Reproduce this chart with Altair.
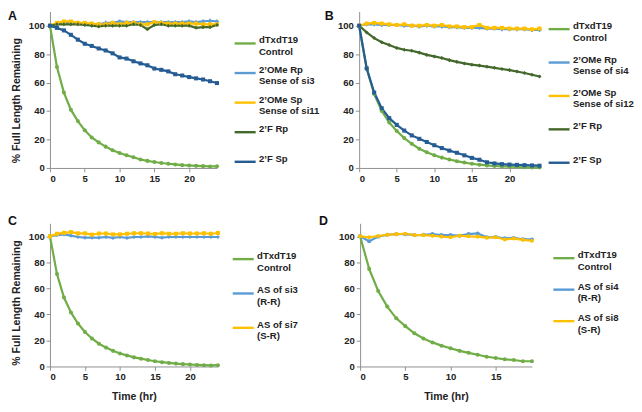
import altair as alt
import pandas as pd

FONT = "Liberation Sans"

HOURS_24 = list(range(25))
HOURS_19 = list(range(20))
X_TICKS_24 = [0, 5, 10, 15, 20]
X_TICKS_19 = [0, 5, 10, 15]
Y_TICKS = [0, 20, 40, 60, 80, 100]

GREEN = "#70AD47"
LIGHT_BLUE = "#5B9BD5"
YELLOW = "#FFC000"
DARK_GREEN = "#43682B"
DARK_BLUE = "#245C93"

# Panel A  ("|" separates the two lines of a legend label)
A_NAMES = ["dTxdT19|Control", "2’OMe Rp|Sense of si3", "2’OMe Sp|Sense of si11", "2’F Rp| ", "2’F Sp| "]
A_CONTROL = [100, 71, 53, 41, 33, 26.5, 21.5, 18, 15, 12.5, 10.5, 9, 7.5, 6, 5, 4.2, 3.5, 3, 2.5, 2, 1.8, 1.5, 1.3, 1.1, 1.2]
A_OME_RP = [100, 101.5, 102, 102, 102, 101.5, 101, 101, 102, 102, 103, 102.5, 102.5, 102.5, 102.5, 102.5, 102.5, 102.5, 102.5, 102.5, 103, 102.5, 103, 103.5, 103]
A_OME_SP = [100, 102, 103, 103, 102, 102, 101.5, 101, 101, 102, 101, 102, 102, 101, 101, 102.5, 102, 101.5, 101.5, 101.5, 101.5, 101.5, 101, 101, 101]
A_F_RP = [100, 101, 101, 101, 101, 100.5, 100, 99.5, 100, 100, 100, 100, 101, 100.5, 97.5, 100.5, 101, 100, 100, 100, 100, 98.5, 99, 99, 100.5]
A_F_SP = [100, 98.5, 96.7, 93.6, 90.2, 87.3, 85.8, 84, 82.6, 80.6, 77.7, 76.9, 75, 73.5, 72.2, 69.9, 69, 67.9, 65.9, 65, 63.9, 63, 62.2, 61, 59.7]

# Panel B
B_NAMES = ["dTxdT19|Control", "2’OMe Rp|Sense of si4", "2’OMe Sp|Sense of si12", "2’F Rp| ", "2’F Sp| "]
B_CONTROL = [100, 70, 52, 40, 32, 26, 21, 17, 13.5, 11, 9, 7.3, 6, 4.8, 3.8, 3, 2.3, 1.8, 1.4, 1.1, 0.9, 0.7, 0.5, 0.4, 0.3]
B_OME_RP = [100, 101, 101, 100.5, 100.5, 100.5, 100, 100, 99.5, 100, 99.5, 99.5, 99, 99, 98.5, 98.5, 98.5, 98, 98, 97.5, 97.5, 97.5, 97.5, 97, 97]
B_OME_SP = [100, 101.5, 102, 101.5, 101, 100.5, 101, 100, 100, 100.5, 100, 100.5, 99.5, 99.5, 99, 99, 100.5, 98.5, 98.5, 98.5, 98, 98, 98, 97.5, 98]
B_F_RP = [100, 95.3, 91.3, 88.4, 86.4, 84.4, 83.1, 82.4, 81.1, 79.5, 78.4, 77.3, 75.8, 74.6, 73.5, 72.6, 72, 71.2, 70.4, 69.6, 68.8, 67.8, 66.8, 65.5, 64.3]
B_F_SP = [100, 70, 53, 42, 35, 30.3, 26.3, 22.9, 20.5, 18.3, 16, 14, 12.2, 10.7, 8.9, 7.1, 5.8, 4, 3.2, 2.7, 2.4, 2.2, 2, 1.8, 1.6]

# Panel C
C_NAMES = ["dTxdT19|Control", "AS of si3|(R-R)", "AS of si7|(S-R)"]
C_CONTROL = [100, 71, 53, 41.5, 33, 26.5, 21.5, 17.5, 14.5, 12, 10, 8.5, 7, 6, 5, 4, 3.3, 2.7, 2.2, 1.8, 1.5, 1.2, 1, 0.8, 1]
C_RR = [100, 101, 101.5, 100.5, 99.5, 99, 99, 99, 99.5, 98.8, 99.5, 98.8, 99.5, 99.5, 100, 99.5, 99, 99.5, 99.5, 99.5, 99.5, 99.5, 99.5, 99.5, 99.5]
C_SR = [100, 102, 102.7, 103.3, 102.3, 102.3, 101.3, 102.2, 102.2, 101.5, 101.5, 102, 102.4, 102.4, 102.2, 101.8, 102.4, 102, 102, 102.4, 102.2, 102.2, 102.4, 102, 102.6]

# Panel D
D_NAMES = ["dTxdT19|Control", "AS of si4|(R-R)", "AS of si8|(S-R)"]
D_CONTROL = [100, 75, 58, 46, 37, 31, 25.5, 21.5, 18.5, 16, 14, 12, 10.5, 9, 7.5, 6.5, 5.5, 5, 4, 4]
D_RR = [100, 96.3, 99.8, 101.2, 101.7, 101.7, 101, 101.2, 101.7, 101, 101, 100.5, 101.7, 102.2, 99.3, 99.5, 98.5, 98.8, 97.8, 97.5]
D_SR = [100, 99.3, 100.2, 101.2, 101.7, 102, 101, 101, 100.5, 99.8, 99.3, 100.5, 100, 99.8, 99, 99.3, 97.6, 98.3, 97.3, 96.6]


def panel(letter, hours, names, series, colors, shapes, width, height, xmax, xticks,
          ytitle, xtitle, legend_x, legend_y, row_pad, letter_x, letter_y, ytitle_y):
    rows = []
    for name, vals in zip(names, series):
        for t, v in zip(hours, vals):
            rows.append({"hour": t, "pct": v, "series": name, "marker": name + "~"})
    df = pd.DataFrame(rows)
    marker_names = [n + "~" for n in names]

    x = alt.X("hour:Q", scale=alt.Scale(domain=[0, xmax], nice=False, zero=True),
              axis=alt.Axis(values=xticks, title=xtitle, titlePadding=10))
    y = alt.Y("pct:Q", scale=alt.Scale(domain=[0, 110], nice=False),
              axis=alt.Axis(values=Y_TICKS, title=ytitle, titlePadding=7, titleY=ytitle_y))
    legend = alt.Legend(
        orient="none", legendX=legend_x, legendY=legend_y, title=None,
        symbolType="stroke", symbolStrokeWidth=2.5, symbolSize=484,
        labelExpr="split(datum.label, '|')", labelFont=FONT, labelFontSize=10,
        labelFontWeight="bold", labelColor="#222222", labelBaseline="alphabetic",
        rowPadding=row_pad, labelLimit=200, labelOffset=2,
    )
    lines = alt.Chart(df).mark_line(strokeWidth=2.3).encode(
        x=x, y=y,
        color=alt.Color("series:N", scale=alt.Scale(domain=names, range=colors), legend=legend),
    )
    points = alt.Chart(df).mark_point(filled=True, size=18, opacity=1).encode(
        x=x, y=y,
        fill=alt.Fill("marker:N", scale=alt.Scale(domain=marker_names, range=colors), legend=None),
        shape=alt.Shape("marker:N", scale=alt.Scale(domain=marker_names, range=shapes), legend=None),
    )
    label = alt.Chart(pd.DataFrame({"letter": [letter]})).mark_text(
        font=FONT, fontSize=13, fontWeight="bold", align="left", baseline="middle", color="#111111"
    ).encode(text="letter:N", x=alt.value(letter_x), y=alt.value(letter_y))
    return alt.layer(lines, points, label).properties(width=width, height=height)


pa = panel("A", HOURS_24, A_NAMES, [A_CONTROL, A_OME_RP, A_OME_SP, A_F_RP, A_F_SP],
           [GREEN, LIGHT_BLUE, YELLOW, DARK_GREEN, DARK_BLUE],
           ["circle", "cross", "square", "diamond", "square"],
           175, 164, 24, X_TICKS_24, "% Full Length Remaining", None, 192, 21, 4, -44, 5, 93)
pb = panel("B", HOURS_24, B_NAMES, [B_CONTROL, B_OME_RP, B_OME_SP, B_F_RP, B_F_SP],
           [GREEN, LIGHT_BLUE, YELLOW, DARK_GREEN, DARK_BLUE],
           ["circle", "cross", "square", "diamond", "square"],
           189, 164, 24, X_TICKS_24, None, None, 197, 6, 8, -36, 5, 82)
pc = panel("C", HOURS_24, C_NAMES, [C_CONTROL, C_RR, C_SR],
           [GREEN, LIGHT_BLUE, YELLOW],
           ["circle", "diamond", "square"],
           176, 150, 24, X_TICKS_24, "% Full Length Remaining", "Time (hr)", 190, 25, 9, -44, -2, 83)
pd_ = panel("D", HOURS_19, D_NAMES, [D_CONTROL, D_RR, D_SR],
            [GREEN, LIGHT_BLUE, YELLOW],
            ["circle", "circle", "circle"],
            180, 150, 19, X_TICKS_19, None, "Time (hr)", 201, 24, 6, -43, -2, 75)

res = dict(color="independent", shape="independent", fill="independent", x="independent", y="independent")
row1 = alt.hconcat(pa, pb, spacing=5).resolve_scale(**res)
row2 = alt.hconcat(pc, pd_, spacing=22).resolve_scale(**res)

chart = alt.vconcat(row1, row2, spacing=34).resolve_scale(**res).properties(
    padding={"top": -7, "left": 0, "right": 0, "bottom": 0}, background="white"
).configure_view(stroke=None).configure_axis(
    grid=False,
    labelFont=FONT, labelFontSize=10, labelFontWeight="bold", labelColor="#222222",
    titleFont=FONT, titleFontSize=11, titleFontWeight="bold", titleColor="#222222",
    domainColor="#8c8c8c", tickColor="#8c8c8c", tickSize=4, labelPadding=2,
)

chart.save("out.html", embed_options={"renderer": "svg", "actions": False})
